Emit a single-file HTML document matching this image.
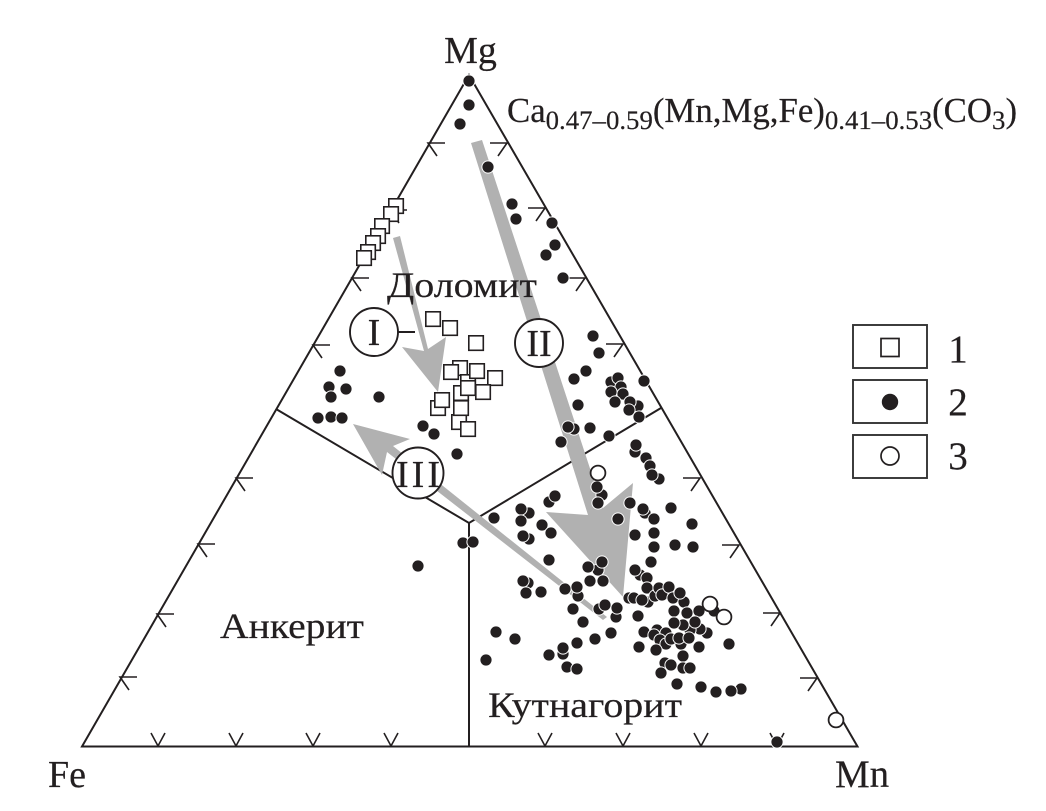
<!DOCTYPE html>
<html><head><meta charset="utf-8">
<style>
html,body{margin:0;padding:0;background:#fff}
svg{display:block}
text{font-family:"Liberation Serif",serif;fill:#231f20;stroke:#231f20;stroke-width:.2}
.l{fill:none;stroke:#231f20;stroke-width:2}
.t{fill:none;stroke:#231f20;stroke-width:1.6}
.g{fill:#b1b1b1;stroke:none}
.d circle{r:6.1px;fill:#231f20;stroke:#fff;stroke-width:1}
.o circle{r:7.4px;fill:#fff;stroke:#231f20;stroke-width:1.8}
.s rect{width:14.5px;height:14.5px;fill:#fff;stroke:#231f20;stroke-width:1.6;transform:translate(-7.2px,-7.2px);transform-box:fill-box}
.c{fill:#fff;stroke:#231f20;stroke-width:1.9}
.b{fill:#fff;stroke:#333;stroke-width:1.9}
</style></head><body>
<svg width="1046" height="811" viewBox="0 0 1046 811" xmlns="http://www.w3.org/2000/svg">
<rect width="1046" height="811" fill="#fff"/>
<path class="l" d="M469 75L857.5 746.5H82Z"/>
<path class="l" d="M276 409L469 523L661 408M469 523V746.5"/>
<path class="t" d="M445 143H428L437 156M407 210H390L399 223M369 278H352L361 291M330 345H313L322 358M253 478H236L245 491M215 544H198L207 557M174 614H157L166 627M137 677H120L129 690"/>
<path class="t" d="M490 143H507L498 156M528 208H545L536 221M568 278H585L576 291M606 344H623L614 357M683 478H700L691 491M722 545H739L730 558M763 613H780L771 626M800 678H817L808 691"/>
<path class="t" d="M151 733L158 746L165 733M229 733L236 746L243 733M306 733L313 746L320 733M384 733L391 746L398 733M538 733L545 746L552 733M616 733L623 746L630 733M694 733L701 746L708 733M770 733L777 746L784 733"/>

<polygon class="g" points="393,238 400,236 428,349 446,337 438,392 402,347 424,351"/>
<polygon class="g" points="471,143 482,140 603,508 633,483 623,597 546,512 588,515"/>
<polygon class="g" points="353,424 410,439 393,446 607,617 603,620 387,452 382,475"/>

<text x="470.500" y="63" font-size="38" text-anchor="middle">Mg</text>
<text x="48" y="787" font-size="38">Fe</text>
<text x="835" y="787" font-size="39">Mn</text>
<text x="507" y="122" font-size="34.800">Ca<tspan font-size="26.800" dy="7">0.47–0.59</tspan><tspan dy="-7">(Mn,Mg,Fe)</tspan><tspan font-size="26.800" dy="7">0.41–0.53</tspan><tspan dy="-7">(CO</tspan><tspan font-size="26.800" dy="7">3</tspan><tspan dy="-7">)</tspan></text>
<text x="387" y="297" font-size="36" textLength="150" lengthAdjust="spacingAndGlyphs">Доломит</text>
<text x="220" y="638" font-size="36" textLength="144" lengthAdjust="spacingAndGlyphs">Анкерит</text>
<text x="488" y="717" font-size="36" textLength="194" lengthAdjust="spacingAndGlyphs">Кутнагорит</text>

<path class="l" d="M398 332H415"/>
<circle class="c" cx="374" cy="332" r="24"/>
<circle class="c" cx="539" cy="343" r="24"/>
<circle class="c" cx="418" cy="473" r="25.500"/>
<text x="374" y="345" font-size="38" text-anchor="middle">I</text>
<text x="539" y="356" font-size="38" text-anchor="middle">II</text>
<text x="396" y="487" font-size="38" textLength="44" lengthAdjust="spacing">III</text>

<g class="s">
<rect x="396" y="206"/><rect x="391" y="214"/><rect x="382" y="226"/><rect x="378" y="236"/><rect x="373" y="243"/><rect x="368" y="252"/><rect x="364" y="258"/>
<rect x="433" y="319"/><rect x="450" y="328"/><rect x="476" y="343"/><rect x="460" y="368"/><rect x="451" y="372"/><rect x="495" y="378"/><rect x="468" y="382"/><rect x="477" y="371"/><rect x="461" y="393"/><rect x="483" y="392"/><rect x="468" y="388"/><rect x="438" y="408"/><rect x="442" y="400"/><rect x="459" y="422"/><rect x="461" y="408"/><rect x="468" y="429"/>
</g>

<g class="d">
<circle cx="469" cy="81"/><circle cx="469" cy="105"/><circle cx="460" cy="124"/><circle cx="488" cy="167"/><circle cx="512" cy="204"/><circle cx="516" cy="219"/><circle cx="552" cy="223"/><circle cx="555" cy="245"/><circle cx="546" cy="255"/><circle cx="563" cy="278"/><circle cx="593" cy="336"/><circle cx="599" cy="353"/><circle cx="586" cy="371"/><circle cx="574" cy="379"/><circle cx="644" cy="381"/><circle cx="611" cy="382"/><circle cx="618" cy="378"/><circle cx="621" cy="387"/><circle cx="611" cy="392"/><circle cx="623" cy="394"/><circle cx="615" cy="402"/><circle cx="638" cy="406"/><circle cx="630" cy="402"/><circle cx="629" cy="410"/><circle cx="639" cy="417"/><circle cx="578" cy="405"/>
<circle cx="340" cy="371"/><circle cx="329" cy="387"/><circle cx="346" cy="389"/><circle cx="331" cy="397"/><circle cx="379" cy="397"/><circle cx="318" cy="418"/><circle cx="331" cy="417"/><circle cx="342" cy="418"/><circle cx="423" cy="426"/><circle cx="434" cy="434"/><circle cx="457" cy="454"/><circle cx="418" cy="566"/><circle cx="463" cy="543"/><circle cx="473" cy="542"/>
<circle cx="574" cy="429"/><circle cx="568" cy="427"/><circle cx="590" cy="428"/><circle cx="609" cy="436"/><circle cx="561" cy="442"/><circle cx="635" cy="452"/><circle cx="636" cy="445"/><circle cx="646" cy="458"/><circle cx="650" cy="466"/><circle cx="659" cy="479"/><circle cx="652" cy="475"/><circle cx="602" cy="495"/><circle cx="597" cy="487"/><circle cx="598" cy="503"/><circle cx="630" cy="503"/><circle cx="671" cy="508"/><circle cx="645" cy="513"/><circle cx="643" cy="509"/><circle cx="654" cy="519"/><circle cx="618" cy="519"/><circle cx="549" cy="502"/><circle cx="555" cy="496"/><circle cx="529" cy="513"/><circle cx="521" cy="509"/><circle cx="521" cy="521"/><circle cx="494" cy="518"/><circle cx="542" cy="525"/><circle cx="551" cy="533"/><circle cx="529" cy="539"/><circle cx="523" cy="536"/><circle cx="635" cy="535"/><circle cx="654" cy="533"/><circle cx="692" cy="524"/><circle cx="654" cy="547"/><circle cx="675" cy="545"/><circle cx="693" cy="547"/><circle cx="651" cy="562"/><circle cx="549" cy="560"/><circle cx="598" cy="570"/><circle cx="602" cy="562"/><circle cx="588" cy="567"/><circle cx="590" cy="581"/><circle cx="603" cy="581"/><circle cx="640" cy="575"/><circle cx="635" cy="570"/><circle cx="647" cy="578"/><circle cx="528" cy="583"/><circle cx="523" cy="581"/><circle cx="526" cy="593"/><circle cx="541" cy="592"/><circle cx="565" cy="589"/><circle cx="578" cy="596"/><circle cx="577" cy="587"/><circle cx="573" cy="609"/><circle cx="583" cy="622"/><circle cx="599" cy="609"/><circle cx="605" cy="605"/><circle cx="616" cy="617"/><circle cx="617" cy="608"/><circle cx="638" cy="616"/><circle cx="629" cy="598"/><circle cx="634" cy="598"/><circle cx="648" cy="602"/><circle cx="642" cy="600"/><circle cx="647" cy="588"/><circle cx="655" cy="596"/><circle cx="659" cy="588"/><circle cx="662" cy="595"/><circle cx="669" cy="587"/><circle cx="673" cy="598"/><circle cx="684" cy="602"/><circle cx="680" cy="593"/><circle cx="674" cy="611"/><circle cx="687" cy="613"/><circle cx="699" cy="611"/><circle cx="714" cy="611"/><circle cx="707" cy="633"/><circle cx="700" cy="629"/><circle cx="690" cy="630"/><circle cx="683" cy="625"/><circle cx="695" cy="622"/><circle cx="674" cy="623"/><circle cx="644" cy="632"/><circle cx="657" cy="630"/><circle cx="666" cy="633"/><circle cx="654" cy="635"/><circle cx="660" cy="640"/><circle cx="666" cy="644"/><circle cx="681" cy="644"/><circle cx="671" cy="639"/><circle cx="679" cy="638"/><circle cx="689" cy="638"/><circle cx="699" cy="647"/><circle cx="729" cy="644"/><circle cx="639" cy="647"/><circle cx="656" cy="650"/><circle cx="683" cy="656"/><circle cx="665" cy="663"/><circle cx="671" cy="665"/><circle cx="661" cy="673"/><circle cx="683" cy="668"/><circle cx="690" cy="668"/><circle cx="677" cy="684"/><circle cx="701" cy="687"/><circle cx="716" cy="692"/><circle cx="741" cy="689"/><circle cx="731" cy="691"/><circle cx="611" cy="633"/><circle cx="595" cy="639"/><circle cx="577" cy="643"/><circle cx="563" cy="654"/><circle cx="563" cy="648"/><circle cx="549" cy="655"/><circle cx="567" cy="667"/><circle cx="577" cy="669"/><circle cx="496" cy="632"/><circle cx="515" cy="639"/><circle cx="486" cy="660"/><circle cx="777" cy="742"/>
</g>
<g class="o"><circle cx="598" cy="473"/><circle cx="710" cy="604"/><circle cx="724" cy="617"/><circle cx="836" cy="720"/></g>

<rect class="b" x="853" y="325" width="74" height="43"/>
<rect class="b" x="853" y="380" width="74" height="43"/>
<rect class="b" x="853" y="435" width="74" height="43"/>
<rect x="881" y="338.500" width="18" height="18" fill="#fff" stroke="#231f20" stroke-width="1.7"/>
<circle cx="890" cy="402" r="8.200" fill="#231f20"/>
<circle cx="890" cy="456" r="9" fill="#fff" stroke="#231f20" stroke-width="1.7"/>
<text x="958" y="362" font-size="39" text-anchor="middle">1</text>
<text x="958" y="415" font-size="39" text-anchor="middle">2</text>
<text x="958" y="469" font-size="39" text-anchor="middle">3</text>
</svg>
</body></html>
